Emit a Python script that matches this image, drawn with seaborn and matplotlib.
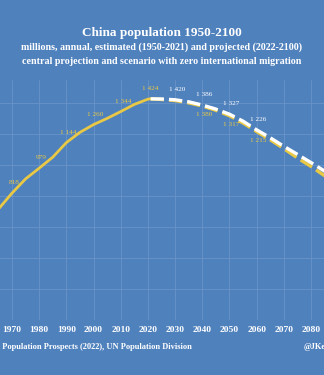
import matplotlib
matplotlib.use("Agg")
import matplotlib.pyplot as plt
import seaborn as sns
import pandas as pd

# Estimated population, millions
est_years = [1950, 1955, 1960, 1965, 1970, 1975, 1980, 1985, 1990, 1995,
             2000, 2005, 2010, 2015, 2020, 2021]
est_values = [544, 610, 660, 715, 818, 910, 979, 1050, 1144, 1210,
              1260, 1300, 1344, 1390, 1424, 1426]

# Projections, millions
proj_years = [2021, 2025, 2030, 2035, 2040, 2045, 2050, 2055, 2060, 2065,
              2070, 2075, 2080, 2085, 2090, 2095, 2100]
central_values = [1426, 1422, 1415, 1400, 1380, 1352, 1317, 1270, 1215, 1162,
                  1105, 1045, 990, 930, 875, 820, 767]
zero_mig_values = [1426, 1425, 1420, 1407, 1386, 1360, 1327, 1282, 1226, 1175,
                   1120, 1068, 1015, 960, 905, 855, 805]

# Decade values that carry a label
est_label_years = [1970, 1980, 1990, 2000, 2010, 2020]
central_label_years = [2040, 2050, 2060]
zero_mig_label_years = [2030, 2040, 2050, 2060]

x_ticks = list(range(1950, 2101, 10))
x_tick_labels = ["", "", "1970", "1980", "1990", "2000", "2010", "2020",
                 "2030", "2040", "2050", "2060", "2070", "2080", "", ""]

BG = "#4F81BD"
GOLD = "#E8C845"
WHITE = "#FFFFFF"
GRID = "#6A93C8"
SERIF = ["Liberation Serif", "DejaVu Serif"]

sns.set_theme(style="dark")
plt.rcParams["font.family"] = SERIF

fig = plt.figure(figsize=(3.24, 3.75), dpi=100, facecolor=BG)
ax = fig.add_axes([-0.1475, 0.1467, 1.292, 0.641])
ax.set_facecolor(BG)

est = pd.DataFrame({"year": est_years, "pop": est_values})
central = pd.DataFrame({"year": proj_years, "pop": central_values})
zero = pd.DataFrame({"year": proj_years, "pop": zero_mig_values})

sns.lineplot(data=est, x="year", y="pop", ax=ax, color=GOLD, linewidth=2.0)
sns.lineplot(data=central, x="year", y="pop", ax=ax, color=GOLD,
             linewidth=2.4)
ax.lines[-1].set_dashes([4, 1.5])
sns.lineplot(data=zero, x="year", y="pop", ax=ax, color=WHITE,
             linewidth=2.4)
ax.lines[-1].set_dashes([4, 1.5])


def fmt(v):
    return f"{v:,}".replace(",", " ")


def label(years, values, keys, color, dy):
    lookup = dict(zip(years, values))
    for y in keys:
        v = lookup[y]
        ax.annotate(fmt(v), (y, v), xytext=(2, dy), textcoords="offset pixels",
                    ha="center", va="center", fontsize=5.2, color=color,
                    family=SERIF)


label(est_years, est_values, est_label_years, GOLD, 10.5)
label(proj_years, zero_mig_values, zero_mig_label_years, WHITE, 10.5)
label(proj_years, central_values, central_label_years, GOLD, -9)

ax.set_xlim(1948, 2102)
ax.set_ylim(0, 1550)
ax.set_xticks(x_ticks)
ax.set_xticklabels(x_tick_labels)
ax.set_yticks(range(0, 1550, 200))
ax.set_yticklabels([])
ax.set_xlabel("")
ax.set_ylabel("")
ax.grid(True, color=GRID, linewidth=0.6)
ax.tick_params(axis="x", length=0, pad=4, labelsize=6.8, labelcolor=WHITE)
ax.tick_params(axis="y", length=0)
for lbl in ax.get_xticklabels():
    lbl.set_fontweight("bold")
for s in ax.spines.values():
    s.set_visible(False)

fig.text(0.5, 1 - 33 / 375, "China population 1950-2100", ha="center",
         va="center", fontsize=9.5, fontweight="bold", color=WHITE)
fig.text(0.5, 1 - 47 / 375,
         "millions, annual, estimated (1950-2021) and projected (2022-2100)",
         ha="center", va="center", fontsize=7.2, fontweight="bold", color=WHITE)
fig.text(0.5, 1 - 61 / 375,
         "central projection and scenario with zero international migration",
         ha="center", va="center", fontsize=7.2, fontweight="bold", color=WHITE)

fig.text(192 / 324, 1 - 347 / 375,
         "Source: World Population Prospects (2022), UN Population Division",
         ha="right", va="center", fontsize=6.0, fontweight="bold", color=WHITE)
fig.text(304 / 324, 1 - 347 / 375, "@JKempEnergy", ha="left", va="center",
         fontsize=6.0, fontweight="bold", color=WHITE)

fig.savefig("out.png", dpi=100, facecolor=BG)
